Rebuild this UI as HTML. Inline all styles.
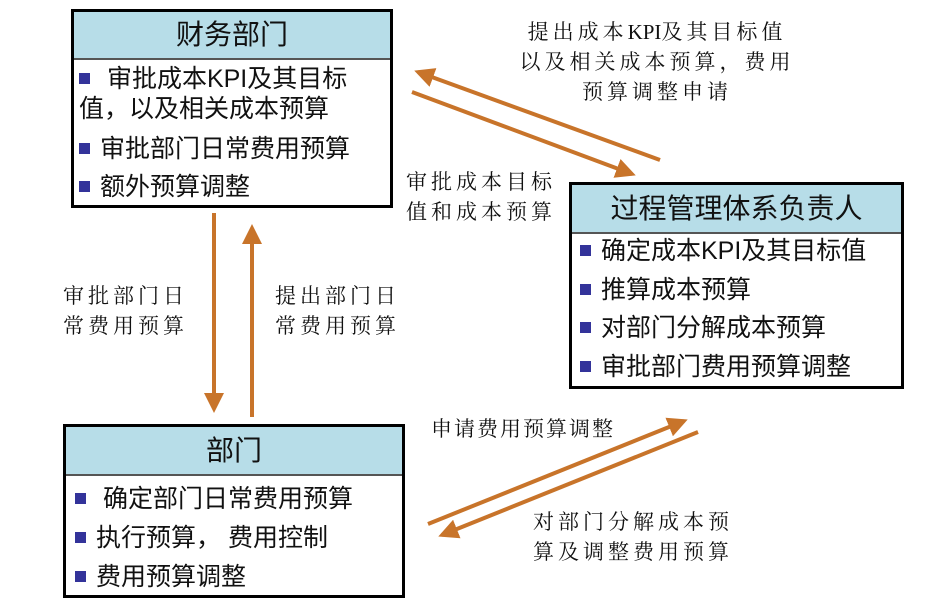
<!DOCTYPE html>
<html><head><meta charset="utf-8"><style>
body{margin:0;width:948px;height:606px;background:#fff;position:relative;overflow:hidden;font-family:"Liberation Sans","Noto Sans CJK SC",sans-serif}
.box{position:absolute;border:3px solid #000;background:#fff;box-sizing:border-box}
.hd{background:#b7dde8;border-bottom:2px solid #555;text-align:center;font-size:28px;color:#111;box-sizing:border-box}
.it{position:absolute;font-size:25px;color:#111;white-space:nowrap;line-height:30px}
.b{display:inline-block;width:11px;height:11px;background:#33339a;margin-right:10px;vertical-align:middle;position:relative;top:-2px}
.lb{position:absolute;font-family:"Liberation Serif","Noto Serif CJK SC","Noto Serif CJK JP",serif;font-size:21px;letter-spacing:4px;line-height:30px;color:#111;white-space:nowrap}
.k{letter-spacing:0}
</style></head><body>
<svg width="948" height="606" style="position:absolute;left:0;top:0">
<defs><marker id="a" markerWidth="5" markerHeight="5" refX="4" refY="2.5" orient="auto" markerUnits="strokeWidth"><path d="M0,0 L5,2.5 L0,5z" fill="#c8742a"/></marker></defs>
<g stroke="#c8742a" stroke-width="4" fill="none" marker-end="url(#a)">
<line x1="660" y1="160" x2="418" y2="72"/>
<line x1="412" y1="92" x2="632" y2="174"/>
<line x1="214" y1="213" x2="214" y2="409"/>
<line x1="252" y1="417" x2="252" y2="228"/>
<line x1="428" y1="524" x2="684" y2="421"/>
<line x1="698" y1="432" x2="442" y2="535"/>
</g></svg>

<div class="box" style="left:71px;top:9px;width:322px;height:199px">
<div class="hd" style="height:48px;line-height:46px">财务部门</div></div>
<div class="it" style="left:79px;top:64px"><span class="b"></span> 审批成本KPI及其目标</div>
<div class="it" style="left:79px;top:94px">值，以及相关成本预算</div>
<div class="it" style="left:79px;top:134px"><span class="b"></span>审批部门日常费用预算</div>
<div class="it" style="left:79px;top:172px"><span class="b"></span>额外预算调整</div>

<div class="box" style="left:569px;top:182px;width:335px;height:207px">
<div class="hd" style="height:49px;line-height:47px">过程管理体系负责人</div></div>
<div class="it" style="left:580px;top:236px"><span class="b"></span>确定成本KPI及其目标值</div>
<div class="it" style="left:580px;top:275px"><span class="b"></span>推算成本预算</div>
<div class="it" style="left:580px;top:313px"><span class="b"></span>对部门分解成本预算</div>
<div class="it" style="left:580px;top:352px"><span class="b"></span>审批部门费用预算调整</div>

<div class="box" style="left:63px;top:424px;width:342px;height:174px">
<div class="hd" style="height:49px;line-height:47px">部门</div></div>
<div class="it" style="left:75px;top:484px"><span class="b"></span> 确定部门日常费用预算</div>
<div class="it" style="left:75px;top:523px"><span class="b"></span>执行预算， 费用控制</div>
<div class="it" style="left:75px;top:562px"><span class="b"></span>费用预算调整</div>

<div class="lb" style="left:512px;top:17px;width:290px;text-align:center">提出成本<span class="k">KPI</span>及其目标值<br>以及相关成本预算，费用<br>预算调整申请</div>
<div class="lb" style="left:406px;top:167px">审批成本目标<br>值和成本预算</div>
<div class="lb" style="left:63px;top:281px">审批部门日<br>常费用预算</div>
<div class="lb" style="left:275px;top:281px">提出部门日<br>常费用预算</div>
<div class="lb" style="left:431px;top:414px;letter-spacing:2px">申请费用预算调整</div>
<div class="lb" style="left:533px;top:507px">对部门分解成本预<br>算及调整费用预算</div>
</body></html>
